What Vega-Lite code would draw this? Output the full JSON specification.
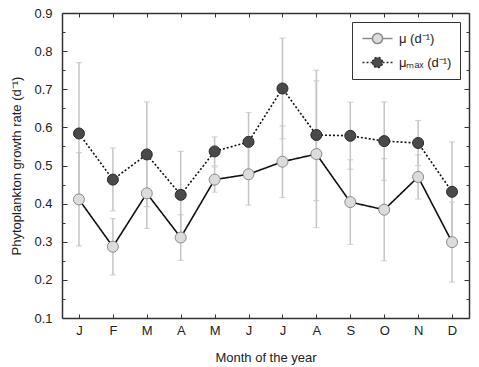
{
  "$schema": "https://vega.github.io/schema/vega-lite/v6.json",
  "width": 407,
  "height": 305,
  "autosize": "none",
  "padding": {"left": 62, "top": 13, "right": 10, "bottom": 49},
  "background": "white",
  "config": {
    "view": {"stroke": null},
    "font": "Liberation Sans",
    "axis": {
      "domainColor": "#333333",
      "domainWidth": 1.5,
      "tickColor": "#333333",
      "tickWidth": 1,
      "grid": false,
      "labelFont": "Liberation Sans",
      "labelFontSize": 13,
      "labelColor": "#222222",
      "titleFont": "Liberation Sans",
      "titleFontSize": 13,
      "titleFontWeight": "normal",
      "titleColor": "#222222",
      "labelOverlap": false
    }
  },
  "data": {
    "values": [
      {"m": 1, "s": "μ (d⁻¹)", "v": 0.411, "lo": 0.289, "hi": 0.534},
      {"m": 2, "s": "μ (d⁻¹)", "v": 0.287, "lo": 0.213, "hi": 0.361},
      {"m": 3, "s": "μ (d⁻¹)", "v": 0.427, "lo": 0.335, "hi": 0.519},
      {"m": 4, "s": "μ (d⁻¹)", "v": 0.311, "lo": 0.251, "hi": 0.371},
      {"m": 5, "s": "μ (d⁻¹)", "v": 0.463, "lo": 0.430, "hi": 0.496},
      {"m": 6, "s": "μ (d⁻¹)", "v": 0.477, "lo": 0.396, "hi": 0.558},
      {"m": 7, "s": "μ (d⁻¹)", "v": 0.510, "lo": 0.416, "hi": 0.604},
      {"m": 8, "s": "μ (d⁻¹)", "v": 0.530, "lo": 0.337, "hi": 0.722},
      {"m": 9, "s": "μ (d⁻¹)", "v": 0.404, "lo": 0.293, "hi": 0.515},
      {"m": 10, "s": "μ (d⁻¹)", "v": 0.384, "lo": 0.250, "hi": 0.518},
      {"m": 11, "s": "μ (d⁻¹)", "v": 0.470, "lo": 0.412, "hi": 0.528},
      {"m": 12, "s": "μ (d⁻¹)", "v": 0.299, "lo": 0.194, "hi": 0.404},
      {"m": 1, "s": "μₘₐₓ (d⁻¹)", "v": 0.584, "lo": 0.398, "hi": 0.770},
      {"m": 2, "s": "μₘₐₓ (d⁻¹)", "v": 0.463, "lo": 0.381, "hi": 0.546},
      {"m": 3, "s": "μₘₐₓ (d⁻¹)", "v": 0.529, "lo": 0.392, "hi": 0.667},
      {"m": 4, "s": "μₘₐₓ (d⁻¹)", "v": 0.423, "lo": 0.309, "hi": 0.537},
      {"m": 5, "s": "μₘₐₓ (d⁻¹)", "v": 0.537, "lo": 0.499, "hi": 0.575},
      {"m": 6, "s": "μₘₐₓ (d⁻¹)", "v": 0.562, "lo": 0.485, "hi": 0.639},
      {"m": 7, "s": "μₘₐₓ (d⁻¹)", "v": 0.702, "lo": 0.570, "hi": 0.834},
      {"m": 8, "s": "μₘₐₓ (d⁻¹)", "v": 0.580, "lo": 0.408, "hi": 0.750},
      {"m": 9, "s": "μₘₐₓ (d⁻¹)", "v": 0.578, "lo": 0.490, "hi": 0.666},
      {"m": 10, "s": "μₘₐₓ (d⁻¹)", "v": 0.564, "lo": 0.461, "hi": 0.667},
      {"m": 11, "s": "μₘₐₓ (d⁻¹)", "v": 0.559, "lo": 0.500, "hi": 0.618},
      {"m": 12, "s": "μₘₐₓ (d⁻¹)", "v": 0.431, "lo": 0.300, "hi": 0.562}
    ]
  },
  "layer": [
    {
      "encoding": {
        "x": {
          "field": "m",
          "type": "quantitative",
          "title": "Month of the year",
          "scale": {"domain": [0.5, 12.5], "nice": false, "zero": false},
          "axis": {
            "values": [1, 2, 3, 4, 5, 6, 7, 8, 9, 10, 11, 12],
            "labelExpr": "['J','F','M','A','M','J','J','A','S','O','N','D'][datum.value-1]",
            "labelOverlap": false,
            "tickSize": -4,
            "labelPadding": 10,
            "titlePadding": 14
          }
        },
        "y": {
          "field": "v",
          "type": "quantitative",
          "title": "Phytoplankton growth rate (d⁻¹)",
          "scale": {"domain": [0.1, 0.9], "nice": false, "zero": false},
          "axis": {
            "values": [0.1, 0.15, 0.2, 0.25, 0.3, 0.35, 0.4, 0.45, 0.5, 0.55, 0.6, 0.65, 0.7, 0.75, 0.8, 0.85, 0.9],
            "labelExpr": "(round(datum.value*20) % 2) == 0 ? format(datum.value, '.1f') : ''",
            "labelOverlap": false,
            "tickSize": {"condition": {"test": "(round(datum.value*20) % 2) == 1", "value": -3}, "value": -5},
            "labelPadding": 15,
            "titlePadding": 10
          }
        }
      },
      "layer": [
        {
          "mark": {"type": "rule", "color": "#c4c4c4", "strokeWidth": 1.5},
          "encoding": {
            "y": {"field": "lo", "type": "quantitative"},
            "y2": {"field": "hi"}
          }
        },
        {
          "mark": {"type": "tick", "color": "#c4c4c4", "thickness": 1.2, "size": 6, "orient": "horizontal"},
          "encoding": {
            "y": {"field": "lo", "type": "quantitative"}
          }
        },
        {
          "mark": {"type": "tick", "color": "#c4c4c4", "thickness": 1.2, "size": 6, "orient": "horizontal"},
          "encoding": {
            "y": {"field": "hi", "type": "quantitative"}
          }
        },
        {
          "mark": {"type": "line", "color": "#111111", "strokeWidth": 1.6},
          "encoding": {
            "strokeDash": {
              "field": "s",
              "type": "nominal",
              "scale": {"domain": ["μ (d⁻¹)", "μₘₐₓ (d⁻¹)"], "range": [[1, 0], [2, 2]]},
              "legend": {
                "title": null,
                "orient": "top-right",
                "offset": 9,
                "symbolType": "M-2,0L-0.67,0M0.67,0L2,0M-0.67,0A0.67,0.67 0 1,0 0.67,0A0.67,0.67 0 1,0 -0.67,0Z",
                "symbolSize": 225,
                "symbolStrokeWidth": 1.5,
                "symbolOffset": 9,
                "labelFontSize": 13,
                "labelFont": "Liberation Sans",
                "labelColor": "#222222",
                "padding": 8,
                "strokeColor": "#333333",
                "fillColor": "white",
                "rowPadding": 7,
                "labelOffset": 13
              }
            }
          }
        },
        {
          "mark": {"type": "circle", "size": 121, "opacity": 1, "strokeWidth": 1},
          "encoding": {
            "fill": {
              "field": "s",
              "type": "nominal",
              "scale": {"domain": ["μ (d⁻¹)", "μₘₐₓ (d⁻¹)"], "range": ["#dcdcdc", "#4a4a4a"]},
              "legend": {
                "title": null,
                "orient": "top-right",
                "offset": 9,
                "symbolType": "M-2,0L-0.67,0M0.67,0L2,0M-0.67,0A0.67,0.67 0 1,0 0.67,0A0.67,0.67 0 1,0 -0.67,0Z",
                "symbolSize": 225,
                "symbolStrokeWidth": 1.5,
                "symbolOffset": 9,
                "labelFontSize": 13,
                "padding": 8,
                "strokeColor": "#333333",
                "fillColor": "white",
                "rowPadding": 7,
                "labelOffset": 13
              }
            },
            "stroke": {
              "field": "s",
              "type": "nominal",
              "scale": {"domain": ["μ (d⁻¹)", "μₘₐₓ (d⁻¹)"], "range": ["#8a8a8a", "#2a2a2a"]},
              "legend": {
                "title": null,
                "orient": "top-right",
                "offset": 9,
                "symbolType": "M-2,0L-0.67,0M0.67,0L2,0M-0.67,0A0.67,0.67 0 1,0 0.67,0A0.67,0.67 0 1,0 -0.67,0Z",
                "symbolSize": 225,
                "symbolStrokeWidth": 1.5,
                "symbolOffset": 9,
                "labelFontSize": 13,
                "padding": 8,
                "strokeColor": "#333333",
                "fillColor": "white",
                "rowPadding": 7,
                "labelOffset": 13
              }
            }
          }
        }
      ]
    },
    {
      "mark": {"type": "point", "opacity": 0},
      "encoding": {
        "x": {
          "field": "m",
          "type": "quantitative",
          "scale": {"domain": [0.5, 12.5], "nice": false, "zero": false},
          "axis": {"orient": "top", "title": null, "labels": false, "values": [1, 2, 3, 4, 5, 6, 7, 8, 9, 10, 11, 12], "tickSize": -4}
        },
        "y": {
          "field": "v",
          "type": "quantitative",
          "scale": {"domain": [0.1, 0.9], "nice": false, "zero": false},
          "axis": {
            "orient": "right",
            "title": null,
            "labels": false,
            "values": [0.1, 0.15, 0.2, 0.25, 0.3, 0.35, 0.4, 0.45, 0.5, 0.55, 0.6, 0.65, 0.7, 0.75, 0.8, 0.85, 0.9],
            "tickSize": {"condition": {"test": "(round(datum.value*20) % 2) == 1", "value": -3}, "value": -5}
          }
        }
      }
    }
  ],
  "resolve": {"scale": {"x": "independent", "y": "independent"}}
}
